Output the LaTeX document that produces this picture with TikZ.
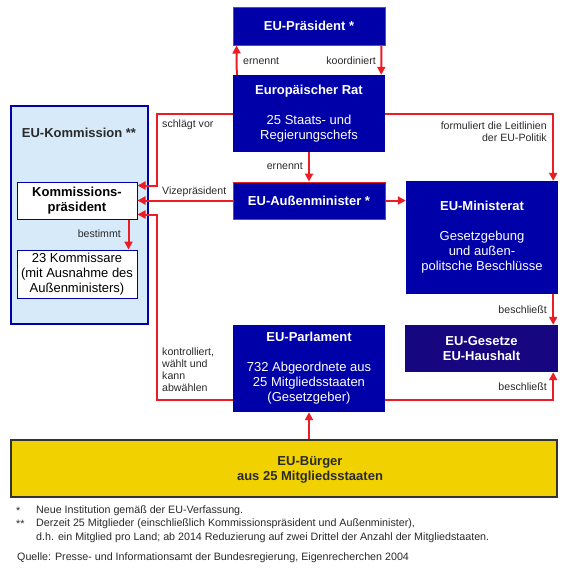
\documentclass[tikz,border=0pt]{standalone}
\usepackage{fontspec}
\setmainfont{Liberation Sans}
\usetikzlibrary{arrows.meta}
\definecolor{eublue}{HTML}{0000A8}
\definecolor{eunavy}{HTML}{16067F}
\definecolor{eured}{HTML}{EC1C24}
\definecolor{komblue}{HTML}{D6EAFA}
\definecolor{eugold}{HTML}{F2D100}
\definecolor{txtgray}{HTML}{2A2A2A}
\begin{document}
\begin{tikzpicture}[x=1pt, y=-1pt,
    inst/.style = {fill=eublue, text=white, align=center, inner sep=0pt, minimum width=152pt, font=\fontsize{13}{15}\selectfont},
    neu/.style = {inst, draw=eured, line width=1pt},
    kbox/.style = {draw=eublue, fill=white, line width=1pt, align=center, inner sep=0pt, minimum width=120pt, font=\fontsize{13}{15}\selectfont},
    lbl/.style = {font=\fontsize{10.6}{12}\selectfont, text=txtgray, inner sep=0pt},
    foot/.style = {font=\fontsize{10.7}{14}\selectfont, text=txtgray, inner sep=0pt, anchor=west, align=left},
    arr/.style = {draw=eured, line width=2pt, -{Triangle[length=8pt,width=8pt]}}]
    \useasboundingbox[fill=white] (0,0) rectangle (566,574);
    % Institutionen
    \node[neu, minimum height=38pt, font=\fontsize{13}{15}\selectfont\bfseries] (praes) at (309,26) {EU-Präsident *};
    \node[inst, minimum height=77pt] (rat) at (309,113.5) {\textbf{Europäischer Rat}\\[15pt]25 Staats- und\\Regierungschefs};
    \node[draw=eublue, fill=komblue, line width=1.2pt, minimum width=137pt, minimum height=218pt] (kom) at (79.5,215) {};
    \node[font=\fontsize{13}{15}\selectfont\bfseries, text=txtgray] (komtitel) at (79,133) {EU-Kommission **};
    \node[kbox, minimum height=37pt, font=\fontsize{13}{15}\selectfont\bfseries] (kp) at (77,200.5) {Kommissions-\\präsident};
    \node[kbox, minimum height=48pt] (komm) at (77,274) {23 Kommissare\\(mit Ausnahme des\\Außenministers)};
    \node[neu, minimum height=37pt, font=\fontsize{13}{15}\selectfont\bfseries] (aussen) at (309,200.5) {EU-Außenminister *};
    \node[inst, minimum height=113pt] (min) at (482,237.5) {\textbf{EU-Ministerat}\\[15pt]Gesetzgebung\\und außen-\\politsche Beschlüsse};
    \node[inst, fill=eunavy, minimum width=153pt, minimum height=47pt, font=\fontsize{13}{15}\selectfont\bfseries] (ges) at (481.5,348.5) {EU-Gesetze\\EU-Haushalt};
    \node[inst, minimum height=87pt] (parl) at (309,368.5) {\textbf{EU-Parlament}\\[15pt]732 Abgeordnete aus\\25 Mitgliedsstaaten\\(Gesetzgeber)};
    \node[draw=black!80, fill=eugold, line width=1.2pt, minimum width=546pt, minimum height=57pt] (buerger) at (284,468.5) {};
    \node[font=\fontsize{13}{15}\selectfont\bfseries, text=txtgray, align=center] (buergertext) at (310,470) {EU-Bürger\\aus 25 Mitgliedsstaaten};
    % Pfeile
    \draw[arr] ([xshift=4pt]rat.north west) -- ([xshift=4pt]praes.south west);
    \draw[arr] ([xshift=-4pt]praes.south east) -- ([xshift=-4pt]rat.north east);
    \draw[arr] (rat.west) -| ([xshift=19pt,yshift=15pt]kp.east) -- ([yshift=15pt]kp.east);
    \draw[arr] (aussen.west) -- (kp.east);
    \draw[arr] ([yshift=-31.5pt]parl.west) -| ([xshift=19pt,yshift=-14pt]kp.east) -- ([yshift=-14pt]kp.east);
    \draw[arr] ([xshift=-9pt]kp.south east) -- ([xshift=-9pt]komm.north east);
    \draw[arr] (rat.south) -- (aussen.north);
    \draw[arr] (rat.east) -| ([xshift=-5pt]min.north east);
    \draw[arr] (aussen.east) -- (min.west |- aussen.east);
    \draw[arr] ([xshift=-5pt]min.south east) -- ([xshift=-5pt]ges.north east);
    \draw[arr] ([yshift=-31.5pt]parl.east) -| ([xshift=-5pt]ges.south east);
    \draw[arr] (parl.south |- buerger.north) -- (parl.south);
    % Beschriftungen
    \node[lbl, anchor=west] (l1) at (243,61) {ernennt};
    \node[lbl, anchor=east] (l2) at (376,61) {koordiniert};
    \node[lbl, anchor=west] (l3) at (162,125) {schlägt vor};
    \node[lbl, anchor=west] (l4) at (162,192) {Vizepräsident};
    \node[lbl, anchor=east] (l5) at (303,166) {ernennt};
    \node[lbl, anchor=east] (l6) at (121,234) {bestimmt};
    \node[lbl, anchor=east, align=right] (l7) at (547,131.5) {formuliert die Leitlinien\\der EU-Politik};
    \node[lbl, anchor=east] (l8) at (547,310) {beschließt};
    \node[lbl, anchor=east] (l9) at (547,387) {beschließt};
    \node[lbl, anchor=west, align=left] (l10) at (162,370) {kontrolliert,\\wählt und\\kann\\abwählen};
    % Fussnoten
    \node[foot] (f1) at (16,511) {*};
    \node[foot] (f2) at (36,511) {Neue Institution gemäß der EU-Verfassung.};
    \node[foot] (f3) at (16,524) {**};
    \node[foot] (f4) at (36,531) {Derzeit 25 Mitglieder (einschließlich Kommissionspräsident und Außenminister),\\d.h. ein Mitglied pro Land; ab 2014 Reduzierung auf zwei Drittel der Anzahl der Mitgliedstaaten.};
    \node[foot] (f5) at (17,558) {Quelle: Presse- und Informationsamt der Bundesregierung, Eigenrecherchen 2004};
\end{tikzpicture}
\end{document}
